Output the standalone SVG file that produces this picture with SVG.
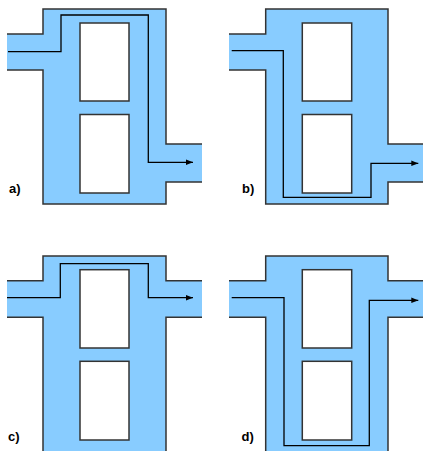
<svg xmlns="http://www.w3.org/2000/svg" width="423" height="451" viewBox="0 0 423 451">
<defs>
<style>
.fill{fill:#88CCFF;stroke:none}
.edge{fill:none;stroke:#333;stroke-width:1.5}
.hole{fill:#fff;stroke:#333;stroke-width:1.5}
.flow{fill:none;stroke:#000;stroke-width:1.3}
.lbl{font-family:"Liberation Sans",Arial,sans-serif;font-weight:bold;font-size:13px;fill:#000}
</style>
<marker id="ah" viewBox="0 0 10 10" refX="10" refY="5" markerWidth="7" markerHeight="7" markerUnits="userSpaceOnUse" orient="auto">
<path d="M0,1 L10,5 L0,9 Z" fill="#000"/>
</marker>
</defs>
<g id="panel-a">
<path class="fill" d="M7,34 H43 V9 H166 V144 H202 V182 H166 V204 H43 V70 H7 Z"/>
<polyline class="edge" points="7,34 43,34 43,9 166,9 166,144 202,144"/>
<polyline class="edge" points="202,182 166,182 166,204 43,204 43,70 7,70"/>
<rect class="hole" x="80" y="23" width="49" height="78"/>
<rect class="hole" x="80" y="114.5" width="49" height="78.5"/>
<text class="lbl" x="9" y="193">a)</text>
</g>
<g id="panel-b">
<path class="fill" d="M229,34 H265.7 V9 H388 V144 H424 V182 H388 V204 H265.7 V70 H229 Z"/>
<polyline class="edge" points="229,34 265.7,34 265.7,9 388,9 388,144 424,144"/>
<polyline class="edge" points="424,182 388,182 388,204 265.7,204 265.7,70 229,70"/>
<rect class="hole" x="302.3" y="23" width="49.4" height="78"/>
<rect class="hole" x="302.3" y="114.5" width="49.4" height="78.5"/>
<text class="lbl" x="242" y="193">b)</text>
</g>
<g id="panel-c">
<path class="fill" d="M7,280.7 H43 V256 H166 V280.7 H202 V317.3 H166 V452 H43 V317.3 H7 Z"/>
<polyline class="edge" points="7,280.7 43,280.7 43,256 166,256 166,280.7 202,280.7"/>
<polyline class="edge" points="202,317.3 166,317.3 166,452"/>
<polyline class="edge" points="43,452 43,317.3 7,317.3"/>
<rect class="hole" x="80" y="269.7" width="49" height="78.3"/>
<rect class="hole" x="80" y="361.3" width="49" height="78.7"/>
<text class="lbl" x="8" y="441">c)</text>
</g>
<g id="panel-d">
<path class="fill" d="M229,280.7 H265.7 V256 H388 V280.7 H424 V317.3 H388 V452 H265.7 V317.3 H229 Z"/>
<polyline class="edge" points="229,280.7 265.7,280.7 265.7,256 388,256 388,280.7 424,280.7"/>
<polyline class="edge" points="424,317.3 388,317.3 388,452"/>
<polyline class="edge" points="265.7,452 265.7,317.3 229,317.3"/>
<rect class="hole" x="302.3" y="269.7" width="49.4" height="78.3"/>
<rect class="hole" x="302.3" y="361.3" width="49.4" height="78.7"/>
<text class="lbl" x="241.5" y="441">d)</text>
</g>
<g id="connectors">
<polyline class="flow" points="8,51.7 61,51.7 61,15 148.3,15 148.3,162.3 193,162.3" marker-end="url(#ah)"/>
<polyline class="flow" points="231.7,50.7 283.3,50.7 283.3,197.3 371,197.3 371,163.3 418.3,163.3" marker-end="url(#ah)"/>
<polyline class="flow" points="7,297.7 60.3,297.7 60.3,263.7 148.3,263.7 148.3,297.7 193,297.7" marker-end="url(#ah)"/>
<polyline class="flow" points="231.7,297.7 284,297.7 284,445.7 369.3,445.7 369.3,300.3 418.3,300.3" marker-end="url(#ah)"/>
</g>
</svg>
